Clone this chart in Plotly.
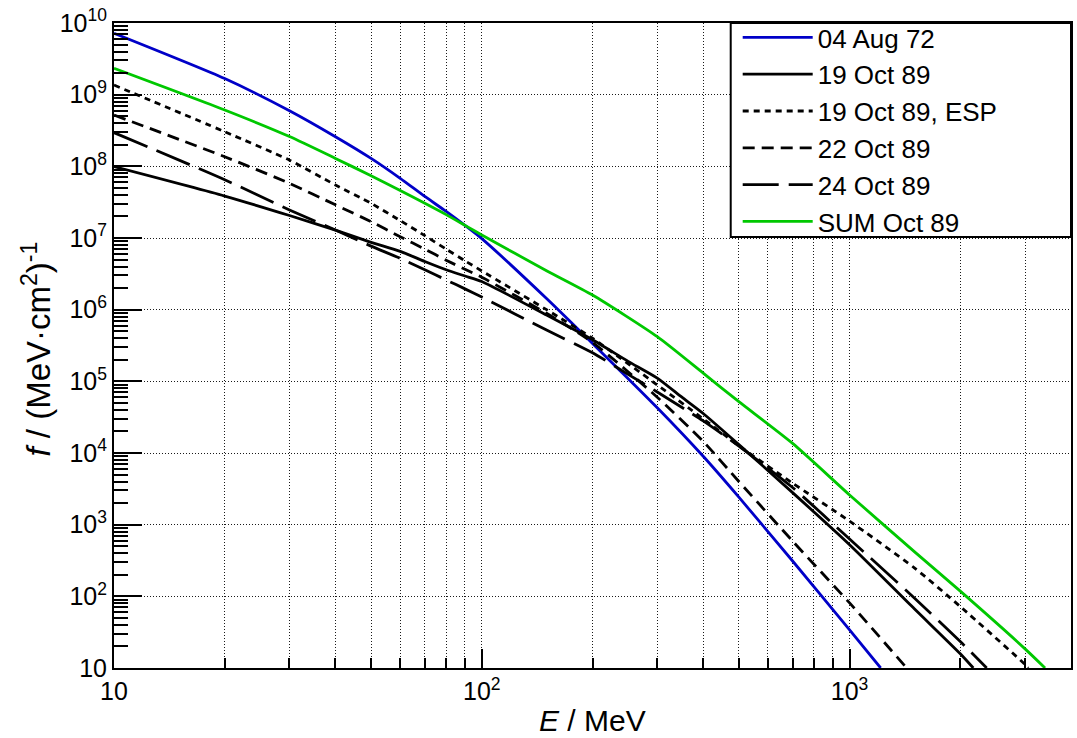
import numpy as np
import plotly.graph_objects as go

# ---------------- data ----------------
E_aug72 = [10, 20, 30, 40, 50, 60, 70, 80, 90, 100, 150, 200, 300, 400, 500, 700, 1000, 1215]
f_aug72 = [7.2e9, 1.68e9, 5.97e8, 2.59e8, 1.29e8, 6.8e7, 3.8e7, 2.35e7, 1.5e7, 9.8e6,
           1.43e6, 3.38e5, 4.28e4, 9.0e3, 2.42e3, 311, 34, 10]

E_oct19 = [10, 20, 30, 40, 50, 60, 70, 80, 90, 100, 150, 200, 250, 300, 350, 400, 500,
           700, 1000, 1500, 2000, 2170]
f_oct19 = [9.9e7, 3.85e7, 2.06e7, 1.29e7, 8.7e6, 6.5e6, 4.7e6, 3.6e6, 2.95e6, 2.47e6,
           8.4e5, 3.8e5, 1.9e5, 1.11e5, 6.0e4, 3.56e4, 1.31e4, 2.8e3, 525, 67, 15.8, 10]

E_esp = [10, 20, 30, 40, 50, 60, 70, 80, 90, 100, 150, 200, 300, 400, 500, 700, 1000,
         1500, 2000, 3000, 3060]
f_esp = [1.36e9, 3.04e8, 1.22e8, 5.5e7, 3.05e7, 1.75e7, 1.08e7, 7.0e6, 4.8e6, 3.47e6,
         1.0e6, 4.0e5, 8.9e4, 3.0e4, 1.26e4, 3.8e3, 1.12e3, 250, 72, 11.2, 10]

E_oct22 = [10, 20, 30, 40, 50, 60, 70, 80, 90, 100, 150, 200, 300, 400, 500, 700, 1000, 1430]
f_oct22 = [5.2e8, 1.36e8, 5.8e7, 2.9e7, 1.69e7, 1.04e7, 7.0e6, 4.9e6, 3.66e6, 2.83e6,
           8.9e5, 3.5e5, 6.0e4, 1.45e4, 4.0e3, 590, 81, 10]

E_oct24 = [10, 20, 30, 40, 50, 60, 70, 80, 90, 100, 150, 200, 250, 300, 400, 500, 700,
           1000, 1500, 2000, 2360]
f_oct24 = [2.95e8, 6.5e7, 2.46e7, 1.29e7, 7.7e6, 5.2e6, 3.6e6, 2.6e6, 1.95e6, 1.5e6,
           5.2e5, 2.5e5, 1.25e5, 7.1e4, 2.8e4, 1.25e4, 3.3e3, 630, 95, 23.4, 10]

E_sum = [10, 20, 30, 40, 50, 60, 70, 80, 90, 100, 150, 200, 300, 400, 500, 700, 1000,
         1500, 2000, 3000, 3400]
f_sum = [2.33e9, 6.1e8, 2.6e8, 1.29e8, 7.4e7, 4.6e7, 3.05e7, 2.12e7, 1.5e7, 1.1e7,
         3.5e6, 1.6e6, 4.2e5, 1.3e5, 5.2e4, 1.36e4, 2.6e3, 420, 118, 18.5, 10]

names = ["04 Aug 72", "19 Oct 89", "19 Oct 89, ESP", "22 Oct 89", "24 Oct 89", "SUM Oct 89"]

SUP = "<sup>%d</sup>"
x_tickvals = [10, 100, 1000]
x_ticktext = ["10", "10" + SUP % 2, "10" + SUP % 3]
y_tickvals = [10 ** k for k in range(1, 11)]
y_ticktext = ["10"] + ["10" + SUP % k for k in range(2, 11)]

# ---------------- figure ----------------
series = [
    (E_aug72, f_aug72, "#0000c8", "solid"),
    (E_oct19, f_oct19, "black", "solid"),
    (E_esp, f_esp, "black", "6px,5px"),
    (E_oct22, f_oct22, "black", "12px,7px"),
    (E_oct24, f_oct24, "black", "36px,10px"),
    (E_sum, f_sum, "#00c800", "solid"),
]

fig = go.Figure()
for i, (E, f, col, dash) in enumerate(series):
    fig.add_trace(go.Scatter(
        x=E, y=f, mode="lines", name=names[i], legendgroup=names[i],
        line=dict(color=col, width=2.8, dash=dash, shape="spline", smoothing=0.6),
    ))

grid_col = "#1a1a1a"
x_minor = [m * 10 ** k for k in (1, 2) for m in range(2, 10)] + [2000, 3000]
y_minor = [m * 10 ** k for k in range(1, 10) for m in range(2, 10)]

fig.update_xaxes(
    type="log", range=[1, np.log10(4000)],
    tickmode="array", tickvals=x_tickvals, ticktext=x_ticktext,
    ticks="inside", ticklen=19, tickwidth=2, tickcolor="black",
    showline=True, linewidth=2, linecolor="black", mirror=True,
    showgrid=True, gridcolor=grid_col, gridwidth=1, griddash="1px,2px",
    zeroline=False, tickfont=dict(size=25),
    minor=dict(tickmode="array", tickvals=x_minor, ticks="inside", ticklen=10,
               tickwidth=2, tickcolor="black", showgrid=True, gridcolor=grid_col,
               gridwidth=1, griddash="1px,2px"),
)
fig.update_yaxes(
    type="log", range=[1, 10],
    tickmode="array", tickvals=y_tickvals, ticktext=y_ticktext,
    ticks="inside", ticklen=28, tickwidth=2, tickcolor="black",
    showline=True, linewidth=2, linecolor="black", mirror=True,
    showgrid=True, gridcolor=grid_col, gridwidth=1, griddash="1px,2px",
    zeroline=False, tickfont=dict(size=25),
    minor=dict(tickmode="array", tickvals=y_minor, ticks="inside", ticklen=14,
               tickwidth=2, tickcolor="black", showgrid=False),
)

# axis titles
fig.add_annotation(
    text="<i>E</i> / MeV", xref="paper", yref="paper", x=0.5, y=0,
    yshift=-52, yanchor="middle", xanchor="center", showarrow=False,
    font=dict(size=30, color="black"),
)
fig.add_annotation(
    text="<i>f</i> / (MeV·cm<sup>2</sup>)<sup>-1</sup>", xref="paper", yref="paper",
    x=0, y=0.5, yshift=-4, xshift=-78, xanchor="center", yanchor="middle", textangle=-90,
    showarrow=False, font=dict(size=33, color="black"),
)

# legend frame
fig.add_shape(type="rect", xref="paper", yref="paper",
              x0=(732 - 114) / 959, x1=1.0, y0=(668 - 237) / 645, y1=1.0,
              line=dict(color="black", width=2), fillcolor="white", layer="above")

fig.update_layout(
    width=1077, height=738,
    margin=dict(l=114, r=4, t=23, b=70),
    paper_bgcolor="white", plot_bgcolor="white",
    font=dict(family="Liberation Sans, Arial, sans-serif", size=25, color="black"),
    showlegend=True,
    legend=dict(x=(739 - 114) / 959, y=(668 - 14) / 645, xanchor="left", yanchor="top",
                bgcolor="rgba(0,0,0,0)", borderwidth=0, font=dict(size=26),
                itemwidth=70, tracegroupgap=6, traceorder="normal"),
)

fig.write_html("out.html", config={"displayModeBar": False},
               post_script="document.body.style.margin='0';")
